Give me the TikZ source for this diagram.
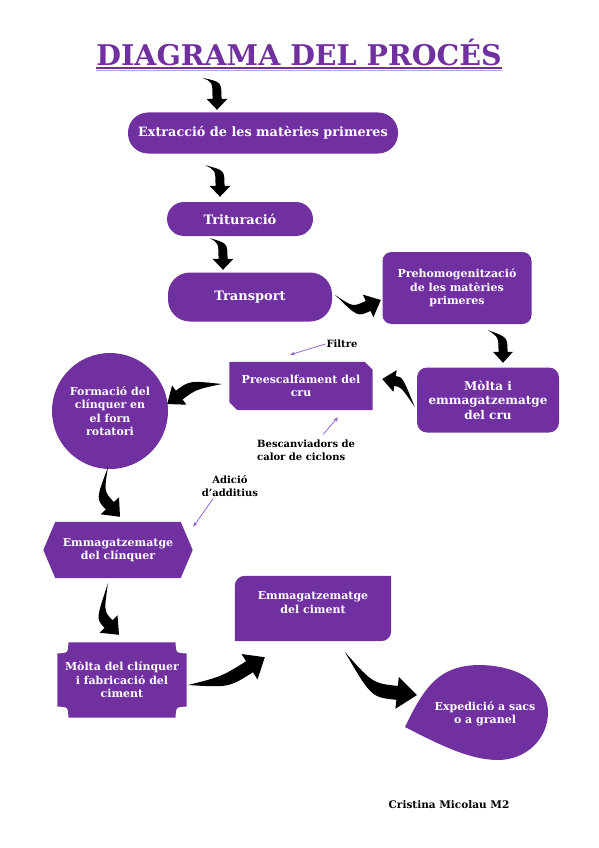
\documentclass[tikz,border=0pt]{standalone}
\usepackage{fontspec}
\setmainfont{DejaVu Serif}
\usetikzlibrary{arrows.meta, calc, backgrounds}
\definecolor{procpurple}{RGB}{112,48,160}
\definecolor{notepurple}{RGB}{150,100,205}

% curved block arrow: tail, bend, tip, half stem, half head, head length
\newcommand{\swoosh}[6]{%
  \path #1 coordinate (sw-a) #2 coordinate (sw-b) #3 coordinate (sw-c);
  \path ($(sw-c)!#6!(sw-b)$) coordinate (sw-h);
  \fill (sw-a) .. controls ($(sw-b)!#4!90:(sw-c)$) .. ($(sw-h)!#4!90:(sw-c)$)
    -- ($(sw-h)!#5!90:(sw-c)$) -- (sw-c) -- ($(sw-h)!#5!-90:(sw-c)$)
    -- ($(sw-h)!#4!-90:(sw-c)$) .. controls ($(sw-b)!#4!-90:(sw-c)$)
    .. (sw-a) -- cycle;}

\begin{document}
\begin{tikzpicture}[x=1pt, y=-1pt,
  font=\fontsize{11}{13.5}\selectfont\bfseries,
  proc/.style={fill=procpurple, text=white, align=center, inner sep=2pt},
  proctext/.style={text=white, align=center, inner sep=2pt},
  note/.style={draw=notepurple, line width=0.8pt, -{Stealth[length=5pt]}},
  notetext/.style={font=\fontsize{10}{13}\selectfont\bfseries, inner sep=1pt}]

  \useasboundingbox (0,0) rectangle (599,848);

  \node[font=\fontsize{28.5}{30}\selectfont\bfseries, text=procpurple,
    inner sep=0pt] (title) at (299,52) {DIAGRAMA DEL PROCÉS};
  \draw[procpurple, line width=2pt] ([yshift=-2.5pt]title.base west)
    -- ([yshift=-2.5pt]title.base east);
  \draw[procpurple!45, line width=1pt] ([yshift=-5.5pt]title.base west)
    -- ([yshift=-5.5pt]title.base east);

  \node[proc, rounded corners=20pt, minimum width=270pt, minimum height=41pt,
    font=\fontsize{12.8}{15}\selectfont\bfseries]
    (extr) at (263,133) {Extracció de les matèries primeres};
  \node[proc, rounded corners=17pt, minimum width=146pt, minimum height=34pt,
    font=\fontsize{13}{15}\selectfont\bfseries]
    (trit) at (240,219) {Trituració};
  \node[proc, rounded corners=22pt, minimum width=164pt, minimum height=49pt,
    font=\fontsize{13}{15}\selectfont\bfseries]
    (transp) at (250,297) {Transport};
  \node[proc, rounded corners=9pt, minimum width=149pt, minimum height=72pt]
    (prehom) at (457,288) {Prehomogenització\\de les matèries\\primeres};
  \node[proc, rounded corners=10pt, minimum width=142pt, minimum height=65pt,
    font=\fontsize{12}{14.5}\selectfont\bfseries]
    (molta) at (488,400) {Mòlta i\\emmagatzematge\\del cru};
  \node[proctext, minimum width=143pt, minimum height=48pt]
    (pre) at (301,386) {Preescalfament del\\cru};
  \node[proc, circle, minimum size=116pt, inner sep=0pt]
    (forn) at (110,411) {Formació del\\clínquer en\\el forn\\rotatori};
  \node[proctext, minimum width=149pt, minimum height=56pt]
    (clink) at (118,550) {Emmagatzematge\\del clínquer};
  \node[proctext, minimum width=129pt, minimum height=75pt]
    (mfab) at (122,680) {Mòlta del clínquer\\i fabricació del\\ciment};
  \node[proctext, minimum width=156pt, minimum height=65pt, text depth=12pt]
    (cim) at (313,608.5) {Emmagatzematge\\del ciment};
  \node[proctext] (exp) at (485,714) {Expedició a sacs\\o a granel};

  \begin{scope}[on background layer]
    \fill[procpurple] (pre.north west) -- ([xshift=-8pt]pre.north east)
      -- ([yshift=-8pt]pre.north east) -- (pre.south east)
      -- ([xshift=8pt]pre.south west) -- ([yshift=8pt]pre.south west) -- cycle;
    \fill[procpurple] (clink.west) -- ([xshift=12pt]clink.north west)
      -- ([xshift=-12pt]clink.north east) -- (clink.east)
      -- ([xshift=-12pt]clink.south east) -- ([xshift=12pt]clink.south west)
      -- cycle;
    \fill[procpurple] ([xshift=11pt]mfab.north west)
      -- ([xshift=-11pt]mfab.north east)
      .. controls ([shift={(-11pt,-11pt)}]mfab.north east)
      .. ([yshift=-11pt]mfab.north east) -- ([yshift=11pt]mfab.south east)
      .. controls ([shift={(-11pt,11pt)}]mfab.south east)
      .. ([xshift=-11pt]mfab.south east) -- ([xshift=11pt]mfab.south west)
      .. controls ([shift={(11pt,11pt)}]mfab.south west)
      .. ([yshift=11pt]mfab.south west) -- ([yshift=-11pt]mfab.north west)
      .. controls ([shift={(11pt,-11pt)}]mfab.north west)
      .. ([xshift=11pt]mfab.north west) -- cycle;
    \fill[procpurple] (cim.south west) -- ([yshift=-10pt]cim.north west)
      .. controls ([yshift=-4.5pt]cim.north west)
      and ([xshift=4.5pt]cim.north west) .. ([xshift=10pt]cim.north west)
      -- (cim.north east) -- ([yshift=10pt]cim.south east)
      .. controls ([yshift=4.5pt]cim.south east)
      and ([xshift=-4.5pt]cim.south east) .. ([xshift=-10pt]cim.south east)
      -- cycle;
    % teardrop
    \fill[procpurple] (405,727) .. controls (425,685) and (440,666) .. (478,665)
      .. controls (520,665) and (548,685) .. (548,712)
      .. controls (548,740) and (525,760) .. (498,760)
      .. controls (470,760) and (440,745) .. (405,727) -- cycle;
  \end{scope}

  \swoosh{($(extr.north)+(-61,-34.5)$)}{($(extr.north)+(-46,-30.5)$)}
    {($(extr.north)+(-46,-2.5)$)}{4.5pt}{10.5pt}{11pt}
  \swoosh{($(extr.south)+(-58,11.5)$)}{($(extr.south)+(-43,16.5)$)}
    {($(trit.north)+(-20,-5)$)}{4.5pt}{10.5pt}{11pt}
  \swoosh{($(trit.south)+(-30,2)$)}{($(trit.south)+(-17,7)$)}
    {($(transp.north)+(-27,-2.5)$)}{4.5pt}{10.5pt}{11pt}
  \swoosh{($(transp.east)+(3,-2)$)}{($(transp.east)+(23,15)$)}
    {($(prehom.west)+(-1.5,12)$)}{5.5pt}{12.5pt}{14pt}
  \swoosh{($(prehom.south)+(31,6)$)}{($(prehom.south)+(46,13)$)}
    {($(molta.north)+(15,-4.5)$)}{4.5pt}{10pt}{11pt}
  \swoosh{($(molta.west)+(-2,7)$)}{($(molta.west)+(-15,-18)$)}
    {($(pre.east)+(9.5,-7)$)}{5pt}{11pt}{13pt}
  \swoosh{($(pre.west)+(-7.5,-2)$)}{($(pre.west)+(-36.5,-1)$)}
    {($(forn.east)+(-1,-7)$)}{5.5pt}{12pt}{15pt}
  \swoosh{($(forn.south)+(-2,-2)$)}{($(forn.south)+(-10,26)$)}
    {($(clink.north)+(2,-5)$)}{5.5pt}{12.5pt}{15pt}
  \swoosh{($(clink.south)+(-10,5)$)}{($(clink.south)+(-18,37)$)}
    {($(mfab.north)+(-3,-7.5)$)}{5.5pt}{12.5pt}{15pt}
  \swoosh{($(mfab.east)+(1.5,5)$)}{($(mfab.east)+(38.5,2)$)}
    {($(cim.south west)+(30,16)$)}{6.5pt}{15pt}{18pt}
  \swoosh{($(cim.south)+(32,11)$)}{($(cim.south)+(59,49)$)}
    {($(exp)+(-68,-19)$)}{7pt}{16pt}{20pt}

  \node[notetext] (filtre) at (342,344) {Filtre};
  \draw[note] (filtre.west) -- ($(pre.north)+(-11,-7)$);
  \node[notetext, align=left, anchor=west] (besc) at (256,450)
    {Bescanviadors de\\calor de ciclons};
  \draw[note] ($(besc.north)+(17,-4)$) -- ($(pre.south)+(37,7)$);
  \node[notetext, align=center] (adic) at (230,486) {Adició\\d’additius};
  \draw[note] ($(adic.south)+(-17,1)$) -- ($(clink.north east)+(0.5,5)$);

  \node[font=\fontsize{10.5}{12}\selectfont\bfseries] (autor) at (449,805)
    {Cristina Micolau M2};
\end{tikzpicture}
\end{document}
